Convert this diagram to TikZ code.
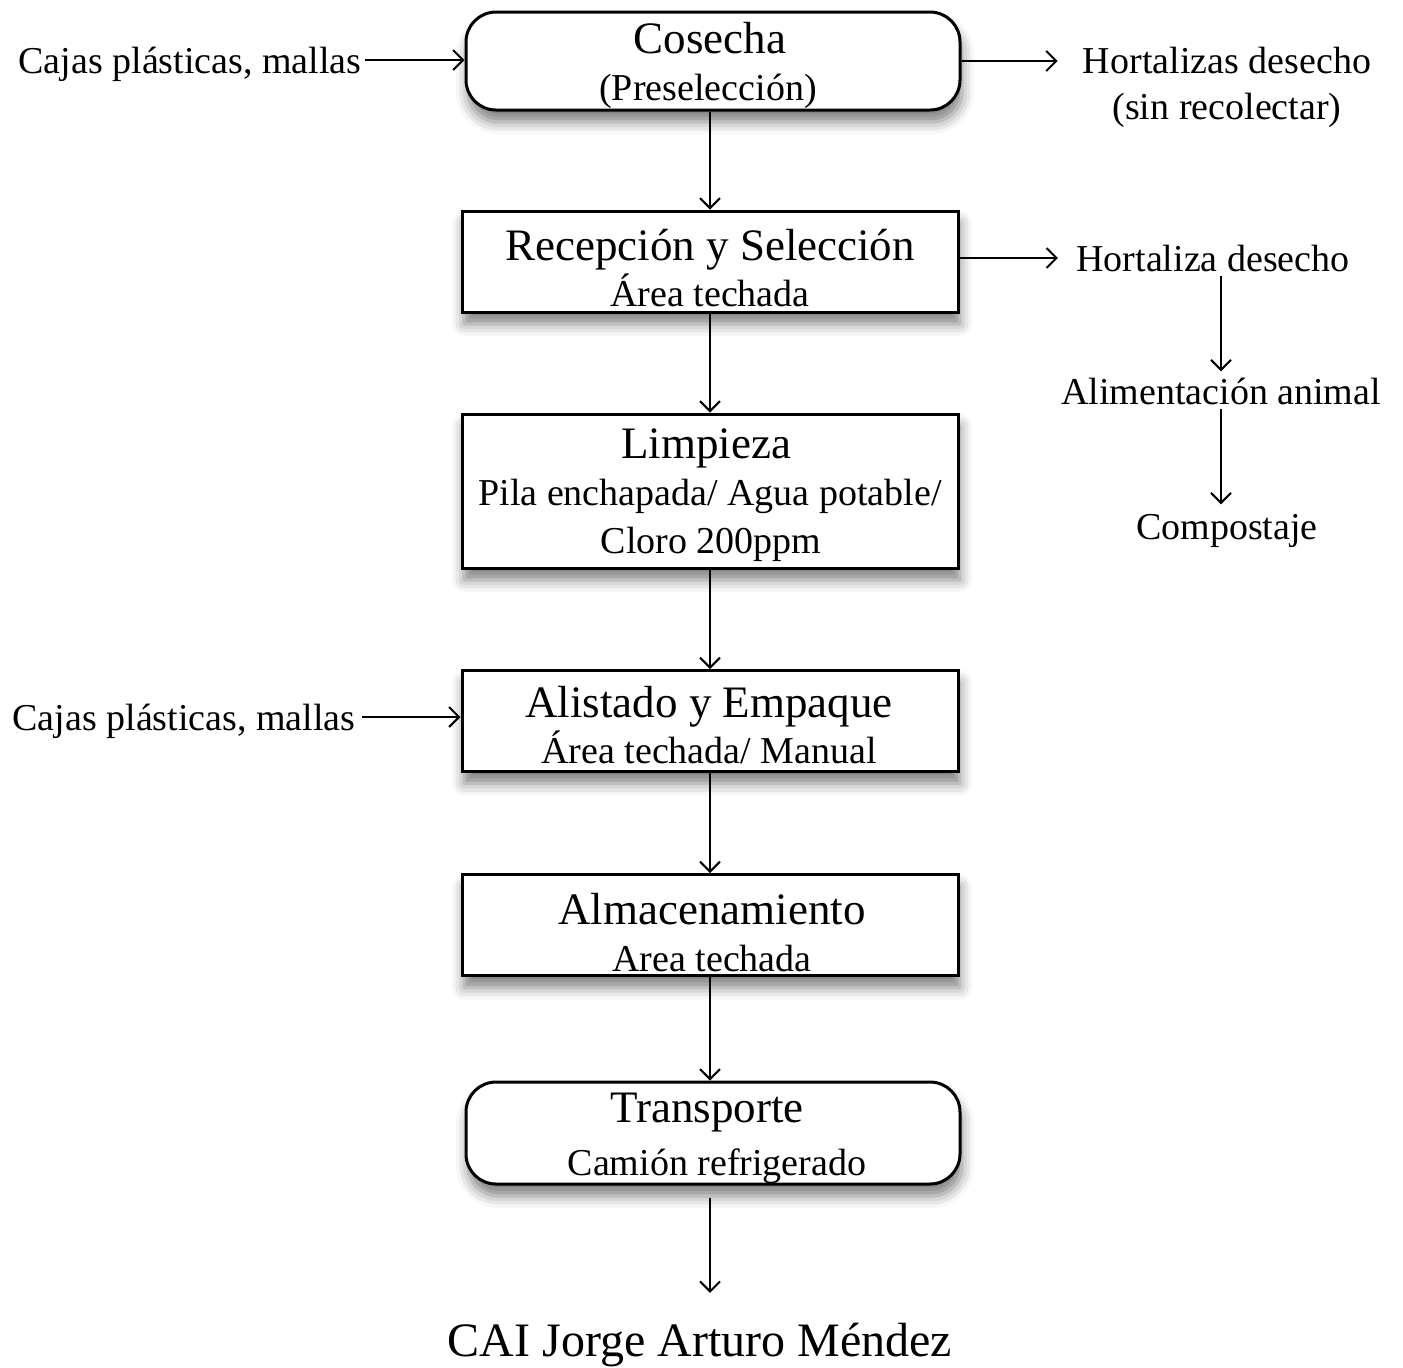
\documentclass[tikz,border=0pt]{standalone}
\usepackage{fontspec}
\setmainfont{Liberation Serif}
\usetikzlibrary{arrows.meta,shadows.blur}

\begin{document}
\begin{tikzpicture}[x=0.5pt,y=-0.5pt,
  stepbox/.style={draw, line width=1.5pt, fill=white, inner sep=0pt,
    minimum width=248pt, minimum height=50.5pt,
    blur shadow={shadow xshift=1pt, shadow yshift=-6pt, shadow blur radius=6pt, shadow opacity=50}},
  roundbox/.style={stepbox, rounded corners=15pt, minimum width=247pt},
  flow/.style={line width=1pt, -{Straight Barb[length=5pt,width=10pt,line width=1pt]}},
  big/.style={inner sep=0pt, text depth=0pt, text height=15.75pt, font=\fontsize{22.5}{26}\selectfont},
  small/.style={inner sep=0pt, text depth=0pt, text height=13.3pt, font=\fontsize{19}{22}\selectfont},
  huge/.style={inner sep=0pt, text depth=0pt, text height=16.8pt, font=\fontsize{24}{28}\selectfont},
]
\useasboundingbox (0,0) rectangle (1403,1367);

% process boxes
\node[roundbox, minimum height=49pt] (cos) at (713,61) {};
\node[stepbox] (rec) at (710,261.5) {};
\node[stepbox, minimum height=77pt] (lim) at (710,491) {};
\node[stepbox] (ali) at (710,721) {};
\node[stepbox] (alm) at (710,925) {};
\node[roundbox, minimum height=51pt] (tra) at (713,1133) {};

% box texts
\node[big]   (cosA) at (710,38)  {Cosecha};
\node[small] (cosB) at (708,87)  {(Preselección)};
\node[big]   (recA) at (710,245) {Recepción y Selección};
\node[small] (recB) at (710,293) {Área techada};
\node[big]   (limA) at (706,443) {Limpieza};
\node[small] (limB) at (710,492) {Pila enchapada/ Agua potable/};
\node[small] (limC) at (711,540) {Cloro 200ppm};
\node[big]   (aliA) at (709,702) {Alistado y Empaque};
\node[small] (aliB) at (709,750) {Área techada/ Manual};
\node[big]   (almA) at (712,909) {Almacenamiento};
\node[small] (almB) at (712,958) {Area techada};
\node[big]   (traA) at (707,1107) {Transporte};
\node[small] (traB) at (717,1162) {Camión refrigerado};

% side texts
\node[small] (in1) at (190,60)  {Cajas plásticas, mallas};
\node[small] (in2) at (184,717) {Cajas plásticas, mallas};
\node[small] (hz1) at (1227,60)  {Hortalizas desecho};
\node[small] (hz2) at (1227,106) {(sin recolectar)};
\node[small] (hd)  at (1213,258) {Hortaliza desecho};
\node[small] (aa)  at (1221,391) {Alimentación animal};
\node[small] (cp)  at (1227,526) {Compostaje};
\node[huge]  (cai) at (700,1340) {CAI Jorge Arturo Méndez};

% main flow
\draw[flow] (cos.south -| rec.north) -- (rec.north);
\draw[flow] (rec.south) -- (lim.north);
\draw[flow] (lim.south) -- (ali.north);
\draw[flow] (ali.south) -- (alm.north);
\draw[flow] (alm.south) -- (tra.north -| alm.south);
\draw[flow] ([yshift=-6pt]tra.south -| alm.south) -- ([yshift=15pt]cai.north -| alm.south);

% inputs
\draw[flow] ([xshift=1.5pt]in1.east) -- (in1.east -| cos.west);
\draw[flow] ([xshift=3pt]in2.east) -- (in2.east -| ali.west);

% outputs
\draw[flow] (cos.east) -- ([xshift=-12.5pt]hz1.west |- cos.east);
\draw[flow] (rec.east |- hd.west) -- ([xshift=-9pt]hd.west);
\draw[flow] ([yshift=-2pt]hd.south -| aa.north) -- ([yshift=3pt]aa.north);
\draw[flow] ([yshift=-2pt]aa.south) -- ([yshift=4pt]cp.north -| aa.south);
\end{tikzpicture}
\end{document}
